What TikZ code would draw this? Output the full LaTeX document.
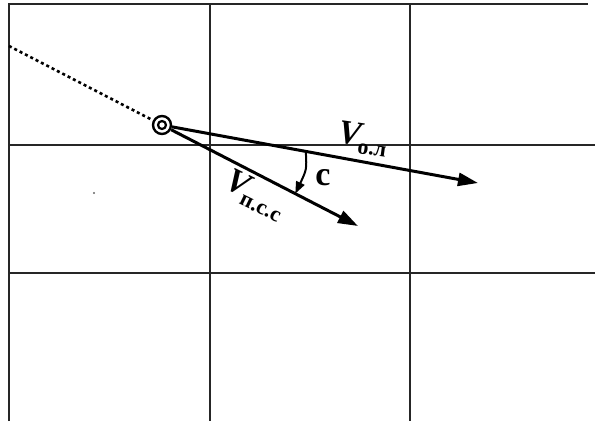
\documentclass[tikz,border=0pt]{standalone}
\usepackage{fontspec}
\setmainfont{Liberation Serif}
\usetikzlibrary{arrows.meta,calc}
\begin{document}
\begin{tikzpicture}[x=1pt,y=-1pt,
  gridline/.style={line width=1.6pt,black!85},
  vec/.style={line width=3pt,-{Triangle[length=20pt,width=13pt]}},
  lbl/.style={font=\fontsize{34}{34}\selectfont\bfseries, inner sep=0pt},
  pivot/.style={circle,draw,line width=2.4pt,minimum size=18pt,inner sep=0pt}]
\useasboundingbox (0,0) rectangle (595,421);
% grid
\draw[gridline] (9,421) -- (9,4) -- (588,4);
\draw[gridline] (210,4) -- (210,421);
\draw[gridline] (410,4) -- (410,421);
\draw[gridline] (9,145) -- (595,145);
\draw[gridline] (9,273) -- (595,273);
% pivot
\node[pivot] (O) at (162,125) {};
\node[circle,draw,line width=2.2pt,minimum size=8pt,inner sep=0pt] (Oin) at (O.center) {};
\coordinate (D) at (9,46);
\coordinate (A) at (478,183);
\coordinate (B) at (358,226);
\draw[line width=2.6pt,dash pattern=on 3pt off 3pt] (D) -- (O);
\draw[vec] (O) -- (A);
\draw[vec] (O) -- (B);
% speck
\fill[black!60] (94,193) circle (1.2pt);
% angle marker
\coordinate (P1) at ($(O.center)!0.455!(A)$);
\coordinate (P2) at ($(O.center)!0.68!(B)$);
\draw[line width=2pt,-{Triangle[length=12pt,width=9pt]}] (P1) .. controls ($(P1)+(1,18)$) .. (P2);
% labels
\node[lbl,rotate=-8] (Lo) at (363,139) {\itshape V\kern-2pt\upshape\raisebox{-8pt}{\fontsize{22}{22}\selectfont о.л}};
\node[lbl,rotate=-26] (Lp) at (255,195) {\itshape V\kern-2pt\upshape\raisebox{-8pt}{\fontsize{22}{22}\selectfont п.с.с}};
\node[lbl] (Lc) at (323,178) {c};
\end{tikzpicture}
\end{document}
